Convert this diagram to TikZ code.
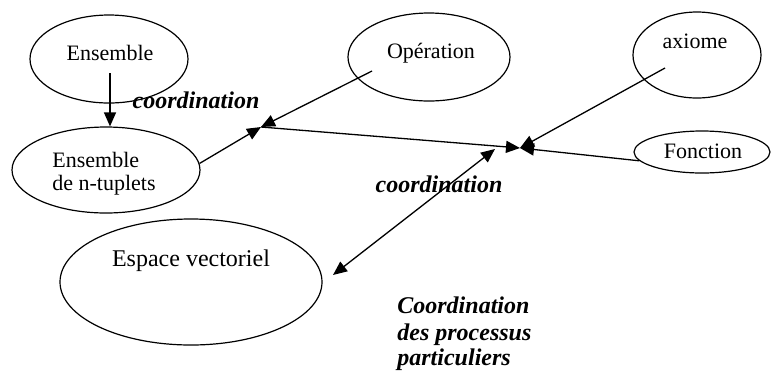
\documentclass[tikz,border=0pt]{standalone}
\usepackage{fontspec}
\setmainfont{Liberation Serif}
\usetikzlibrary{shapes.geometric,arrows.meta}
\begin{document}
\begin{tikzpicture}[x=0.5pt,y=-0.5pt,
  ell/.style={ellipse,draw,line width=0.6pt,inner sep=0pt},
  lbl/.style={inner sep=0pt,font=\fontsize{11}{13}\selectfont},
  coord/.style={inner sep=0pt,font=\fontsize{12}{13}\selectfont\bfseries\itshape},
  arr/.style={line width=0.65pt,-{Triangle[length=7pt,width=6pt]}},
  darr/.style={line width=0.65pt,{Triangle[length=7pt,width=6pt]}-{Triangle[length=7pt,width=6pt]}}]
\useasboundingbox (0,0) rectangle (771,371);

% ellipses
\node[ell,minimum width=79pt,minimum height=44pt] (ens) at (109,59) {};
\node[ell,minimum width=94pt,minimum height=43pt] (tup) at (106,170) {};
\node[ell,minimum width=131pt,minimum height=63pt] (esp) at (191,282) {};
\node[ell,minimum width=81pt,minimum height=44pt] (ope) at (429,57) {};
\node[ell,minimum width=64pt,minimum height=43pt] (axi) at (697,55) {};
\node[ell,minimum width=68pt,minimum height=21pt] (fon) at (702,152) {};

% texts inside the ellipses
\node[lbl,anchor=base] (tEns) at (110,60) {Ensemble};
\node[lbl,anchor=base west] (tTup1) at (52,167) {Ensemble};
\node[lbl,anchor=base west] (tTup2) at (52,190) {de n-tuplets};
\node[lbl,anchor=base,font=\fontsize{12}{14}\selectfont] (tEsp) at (191,266) {Espace vectoriel};
\node[lbl,anchor=base] (tOpe) at (431,58) {Opération};
\node[lbl,anchor=base] (tAxi) at (695,48) {axiome};
\node[lbl,anchor=base] (tFon) at (703,158) {Fonction};

% free labels
\node[coord,anchor=base] (c1) at (196,108) {coordination};
\node[coord,anchor=base] (c2) at (439,192) {coordination};
\node[coord,anchor=base west] (c3a) at (397,313) {Coordination};
\node[coord,anchor=base west] (c3b) at (397,340) {des processus};
\node[coord,anchor=base west] (c3c) at (397,365) {particuliers};

% junctions and start points
\coordinate (j1) at (261,127);
\coordinate (j2) at (520,148);
\coordinate (j2b) at (495,149);
\coordinate (ensS) at (110,73);
\coordinate (opeS) at (372,71);
\coordinate (axiS) at (665,68);
\coordinate (espA) at (333,275);

% connectors
\draw[arr] (ensS) -- (ensS |- tup.north);
\draw[arr] (tup.4) -- (j1);
\draw[arr] (opeS) -- (j1);
\draw[arr] (j1) -- (j2);
\draw[arr] (axiS) -- (j2);
\draw[arr] (fon.188) -- (j2);
\draw[darr] (espA) -- (j2b);
\end{tikzpicture}
\end{document}
